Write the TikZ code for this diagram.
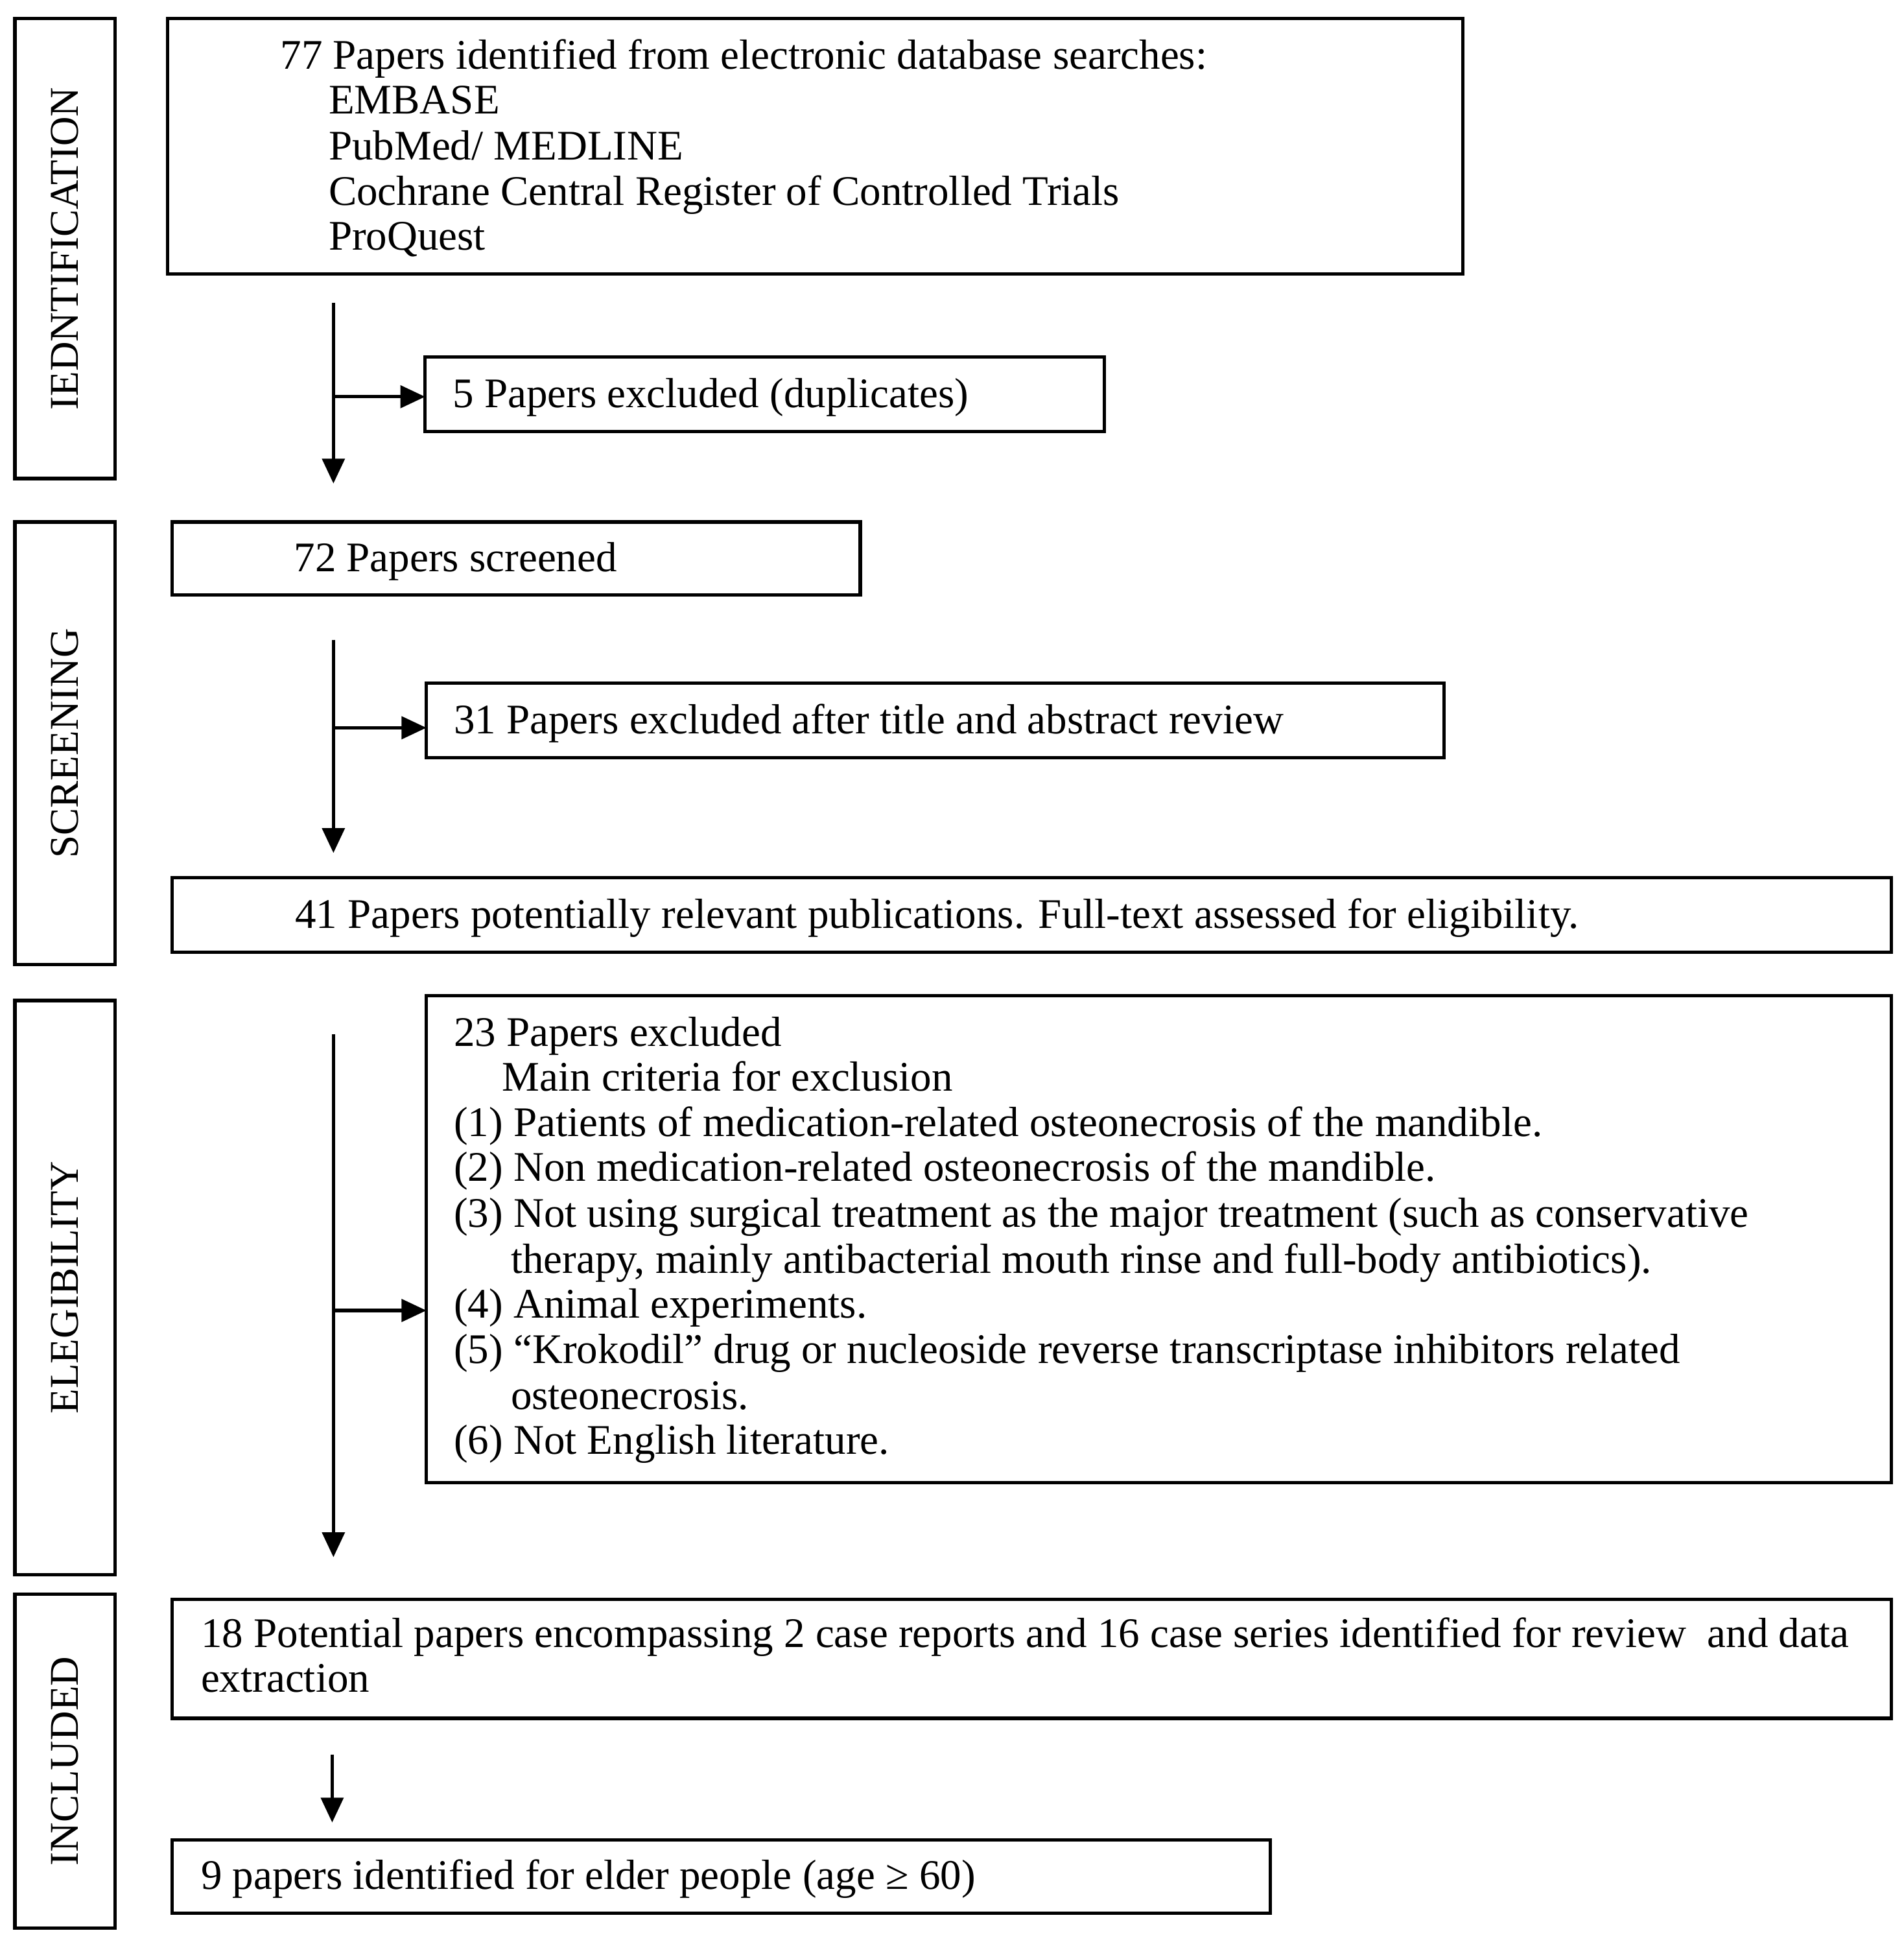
\documentclass[tikz,border=0pt]{standalone}
\usepackage{fontspec}
\setmainfont{Liberation Serif}
\usetikzlibrary{arrows.meta}
\begin{document}
\begin{tikzpicture}[x=1pt,y=-1pt,
  box/.style={draw, line width=2.7pt, inner sep=0pt, outer sep=0pt},
  txt/.style={anchor=mid west, inner sep=0pt, yshift=-8.5pt, font=\fontsize{34}{39}\selectfont},
  side/.style={rotate=90, inner sep=0pt, font=\fontsize{33}{38}\selectfont},
  conn/.style={line width=2.7pt, -{Triangle[length=20pt,width=18pt]}}]
\useasboundingbox (0,0) rectangle (1536,1568);
% side boxes
\node[box, minimum width=81pt, minimum height=371pt] (sid) at (52.5,200.5) {};
\node[box, minimum width=81pt, minimum height=357pt] (ssc) at (52.5,599.5) {};
\node[box, minimum width=81pt, minimum height=463pt] (sel) at (52.5,1038.5) {};
\node[box, minimum width=81pt, minimum height=269pt] (sin) at (52.5,1420.5) {};
\node[side] (lid) at (sid) {IEDNTIFICATION};
\node[side] (lsc) at (ssc) {SCREENING};
\node[side] (lel) at (sel) {ELEGIBILITY};
\node[side] (lin) at (sin) {INCLUDED};
% main boxes
\node[box, minimum width=1045pt, minimum height=206pt] (b1) at (657.5,118) {};
\node[box, minimum width=548pt, minimum height=60pt] (b2) at (617,318) {};
\node[box, minimum width=555pt, minimum height=59pt] (b3) at (416.5,450.5) {};
\node[box, minimum width=821pt, minimum height=60pt] (b4) at (754.5,581) {};
\node[box, minimum width=1387pt, minimum height=60pt] (b5) at (832.5,738) {};
\node[box, minimum width=1182pt, minimum height=393pt] (b6) at (935,999.5) {};
\node[box, minimum width=1387pt, minimum height=96pt] (b7) at (832.5,1338) {};
\node[box, minimum width=886pt, minimum height=59pt] (b8) at (582,1513.5) {};
% texts
\node[txt] (t1a) at (226,45) {77 Papers identified from electronic database searches:};
\node[txt] (t1b) at (265,81) {EMBASE};
\node[txt] (t1c) at (265,118) {PubMed/ MEDLINE};
\node[txt] (t1d) at (265,155) {Cochrane Central Register of Controlled Trials};
\node[txt] (t1e) at (265,191) {ProQuest};
\node[txt] (t2) at (365,318) {5 Papers excluded (duplicates)};
\node[txt] (t3) at (237,450) {72 Papers screened};
\node[txt] (t4) at (366,581) {31 Papers excluded after title and abstract review};
\node[txt] (t5) at (238,738) {41 Papers potentially relevant publications. Full-text assessed for eligibility.};
\node[txt] (t6a) at (366,833) {23 Papers excluded};
\node[txt] (t6b) at (405,869) {Main criteria for exclusion};
\node[txt] (t6c) at (366,906) {(1) Patients of medication-related osteonecrosis of the mandible.};
\node[txt] (t6d) at (366,942) {(2) Non medication-related osteonecrosis of the mandible.};
\node[txt] (t6e) at (366,979) {(3) Not using surgical treatment as the major treatment (such as conservative};
\node[txt] (t6f) at (412,1016) {therapy, mainly antibacterial mouth rinse and full-body antibiotics).};
\node[txt] (t6g) at (366,1052) {(4) Animal experiments.};
\node[txt] (t6h) at (366,1089) {(5) “Krokodil” drug or nucleoside reverse transcriptase inhibitors related};
\node[txt] (t6i) at (412,1126) {osteonecrosis.};
\node[txt] (t6j) at (366,1162) {(6) Not English literature.};
\node[txt] (t7a) at (162,1318) {18 Potential papers encompassing 2 case reports and 16 case series identified for review\ \ and data};
\node[txt] (t7b) at (162,1354) {extraction};
\node[txt] (t8) at (162,1513) {9 papers identified for elder people (age ≥ 60)};
% connectors
\coordinate (a1s) at (269,244); \coordinate (a1e) at (269,390); \coordinate (j1) at (269,320);
\coordinate (a2s) at (269,516); \coordinate (a2e) at (269,688); \coordinate (j2) at (269,587);
\coordinate (a3s) at (269,834); \coordinate (a3e) at (269,1256); \coordinate (j3) at (269,1057);
\coordinate (a4s) at (268,1415); \coordinate (a4e) at (268,1470);
\draw[conn] (a1s) -- (a1e);
\draw[conn] (j1) -- (j1 -| b2.west);
\draw[conn] (a2s) -- (a2e);
\draw[conn] (j2) -- (j2 -| b4.west);
\draw[conn] (a3s) -- (a3e);
\draw[conn] (j3) -- (j3 -| b6.west);
\draw[conn] (a4s) -- (a4e);
\end{tikzpicture}
\end{document}
